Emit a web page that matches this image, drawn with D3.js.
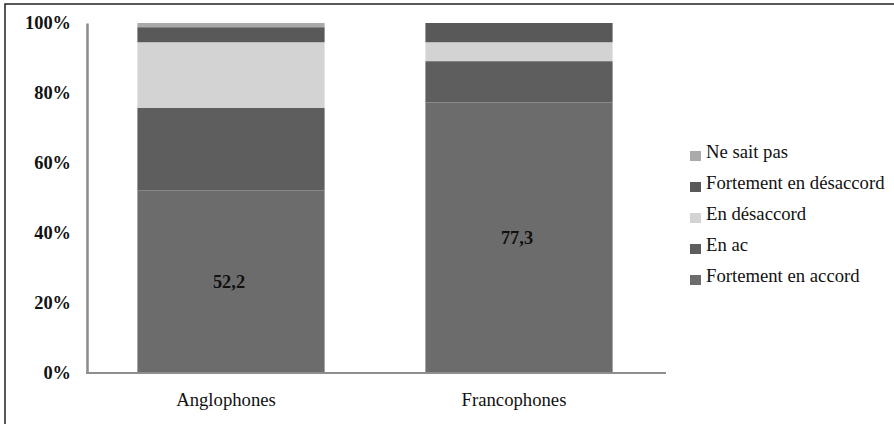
<!DOCTYPE html>
<html>
<head>
<meta charset="utf-8">
<script src="https://cdn.jsdelivr.net/npm/d3@7"></script>
<style>
  body { margin: 0; background: #fff; }
  svg, svg text { font-family: "Liberation Serif", "Times New Roman", serif; }
</style>
</head>
<body>
<div id="main"></div>
<script>
// data
let categories = ["Anglophones", "Francophones"];
let seriesNames = ["Fortement en accord", "En ac", "En désaccord", "Fortement en désaccord", "Ne sait pas"];
let anglophones = [52.2, 23.6, 18.7, 4.3, 1.2];
let francophones = [77.3, 11.8, 5.4, 5.5, 0];
let seriesColors = ["#6c6c6c", "#5e5e5e", "#d3d3d3", "#595959", "#aaaaaa"];
let yTicks = [0, 20, 40, 60, 80, 100];
let barLabels = ["52,2", "77,3"];

let width = 894;
let height = 424;

let svg = d3.select("#main")
            .append("svg")
            .attr("width", width)
            .attr("height", height);

// outer frame
svg.append("rect")
   .attr("x", 5).attr("y", 4)
   .attr("width", 900).attr("height", 440)
   .attr("fill", "none")
   .attr("stroke", "#222")
   .attr("stroke-width", 1.5);

let table = categories.map((c, i) => {
    let row = { cat: c };
    let vals = i == 0 ? anglophones : francophones;
    seriesNames.forEach((s, j) => row[s] = vals[j]);
    return row;
});

let stacked = d3.stack().keys(seriesNames)(table);

const xScale = d3.scaleBand().domain(categories).range([87, 663]).paddingInner(0.35).paddingOuter(0.175);
const yScale = d3.scaleLinear().domain([0, 100]).range([373, 23]);
const color = d3.scaleOrdinal().domain(seriesNames).range(seriesColors);

svg.selectAll("g.layer")
   .data(stacked)
   .enter()
   .append("g")
   .attr("class", "layer")
   .attr("fill", (d) => color(d.key))
   .selectAll("rect")
   .data((d) => d)
   .enter()
   .append("rect")
   .attr("x", (d) => xScale(d.data.cat))
   .attr("y", (d) => yScale(d[1]))
   .attr("width", xScale.bandwidth())
   .attr("height", (d) => yScale(d[0]) - yScale(d[1]));

// axes
let yAxis = d3.axisLeft(yScale).tickValues(yTicks).tickSize(0).tickPadding(16).tickFormat((d) => d + "%");
let yg = svg.append("g").attr("transform", "translate(87,0)").call(yAxis);
yg.attr("font-family", null);
yg.select(".domain").attr("stroke", "#8a8a8a").attr("stroke-width", 2.5);
yg.selectAll("text")
  .style("font-family", "'Liberation Serif'")
  .attr("font-size", 18.4)
  .attr("font-weight", "bold")
  .attr("fill", "#111");

let xAxis = d3.axisBottom(xScale).tickSize(0).tickPadding(20);
let xg = svg.append("g").attr("transform", "translate(0,373)").call(xAxis);
xg.attr("font-family", null);
xg.select(".domain").attr("stroke", "#8e8e8e").attr("stroke-width", 2).attr("d", "M86,0H666");
xg.selectAll("text")
  .style("font-family", "'Liberation Serif'")
  .attr("font-size", 18.7)
  .attr("fill", "#111")
  .attr("dx", -5);

// value labels on the bottom segment
svg.selectAll("text.val")
   .data(stacked[0])
   .enter()
   .append("text")
   .attr("class", "val")
   .attr("x", (d) => xScale(d.data.cat) + xScale.bandwidth() / 2 - 2)
   .attr("y", (d) => (yScale(d[0]) + yScale(d[1])) / 2 + 6)
   .attr("text-anchor", "middle")
   .style("font-family", "'Liberation Serif'")
   .attr("font-size", 18.4)
   .attr("font-weight", "bold")
   .attr("fill", "#111")
   .text((d, i) => barLabels[i]);

// legend, reversed order
let legend = svg.selectAll("g.leg")
   .data(seriesNames.slice().reverse())
   .enter()
   .append("g")
   .attr("class", "leg")
   .attr("transform", (d, i) => "translate(690," + (158 + i * 31) + ")");

legend.append("rect")
      .attr("x", 0).attr("y", -7)
      .attr("width", 11).attr("height", 10)
      .attr("fill", (d) => color(d));

legend.append("text")
      .attr("x", 16).attr("y", 0)
      .style("font-family", "'Liberation Serif'")
      .attr("font-size", 18.7)
      .attr("fill", "#111")
      .text((d) => d);
</script>
</body>
</html>
